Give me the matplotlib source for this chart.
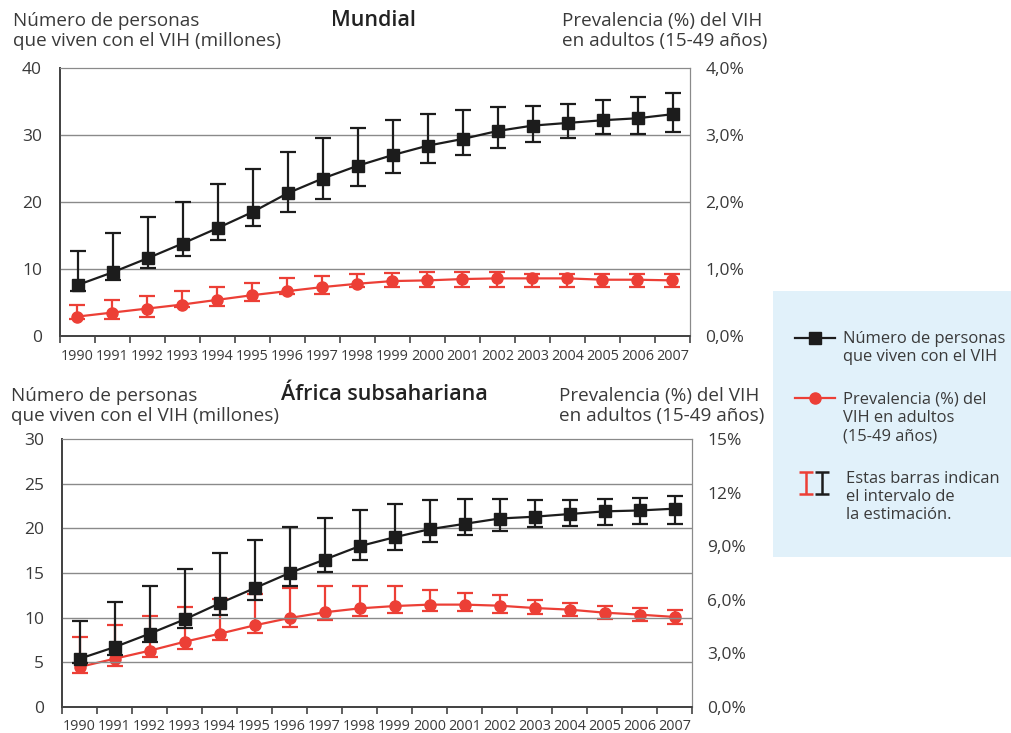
import numpy as np
import matplotlib
matplotlib.use('Agg')
import matplotlib.pyplot as plt
from matplotlib.ticker import FixedLocator, NullFormatter

plt.rcParams['font.family'] = ['Open Sans', 'DejaVu Sans']

years = [str(y) for y in range(1990, 2008)]

# Mundial: personas (millones) y prevalencia (%)
world_people = [7.6, 9.5, 11.6, 13.8, 16.1, 18.5, 21.3, 23.5, 25.4, 27.0,
                28.4, 29.4, 30.6, 31.4, 31.8, 32.2, 32.5, 33.1]
world_people_hi = [12.7, 15.3, 17.7, 20.0, 22.7, 24.9, 27.4, 29.5, 31.1, 32.3,
                   33.1, 33.7, 34.2, 34.4, 34.6, 35.2, 35.6, 36.2]
world_people_lo = [6.7, 8.3, 10.1, 12.0, 14.3, 16.4, 18.5, 20.5, 22.4, 24.3,
                   25.8, 27.0, 28.1, 29.0, 29.6, 30.1, 30.2, 30.4]
world_prev = [0.29, 0.35, 0.41, 0.47, 0.54, 0.61, 0.67, 0.73, 0.78, 0.82,
              0.83, 0.85, 0.86, 0.86, 0.86, 0.84, 0.84, 0.83]
world_prev_hi = [0.46, 0.53, 0.59, 0.67, 0.73, 0.79, 0.86, 0.90, 0.93, 0.94,
                 0.95, 0.95, 0.95, 0.93, 0.93, 0.93, 0.93, 0.93]
world_prev_lo = [0.26, 0.26, 0.29, 0.43, 0.45, 0.52, 0.62, 0.62, 0.73, 0.73,
                 0.73, 0.73, 0.73, 0.73, 0.73, 0.73, 0.73, 0.73]

# África subsahariana
ssa_people = [5.4, 6.7, 8.2, 9.8, 11.6, 13.3, 15.0, 16.5, 18.0, 19.0,
              19.9, 20.5, 21.1, 21.3, 21.6, 21.9, 22.0, 22.2]
ssa_people_hi = [9.6, 11.8, 13.5, 15.4, 17.2, 18.7, 20.1, 21.2, 22.1, 22.7,
                 23.2, 23.3, 23.3, 23.2, 23.2, 23.3, 23.4, 23.6]
ssa_people_lo = [4.9, 5.8, 7.3, 8.8, 10.3, 12.0, 13.6, 15.1, 16.5, 17.6,
                 18.5, 19.3, 19.7, 20.1, 20.3, 20.4, 20.5, 20.5]
ssa_prev = [2.24, 2.70, 3.15, 3.65, 4.10, 4.57, 4.98, 5.30, 5.52, 5.65,
            5.73, 5.73, 5.67, 5.54, 5.45, 5.28, 5.17, 5.04]
ssa_prev_hi = [3.90, 4.60, 5.10, 5.60, 6.05, 6.30, 6.66, 6.80, 6.80, 6.75,
               6.57, 6.40, 6.25, 5.97, 5.84, 5.65, 5.52, 5.41]
ssa_prev_lo = [1.90, 2.30, 2.80, 3.25, 3.77, 4.16, 4.50, 4.85, 5.10, 5.26,
               5.37, 5.37, 5.28, 5.19, 5.07, 4.94, 4.81, 4.66]

BLACK = '#1c1c1c'
RED = '#ec3f36'
TXT = '#3a3a3a'
W, H = 1011, 733


def panel(rect, people, p_lo, p_hi, prev, v_lo, v_hi, left_max, left_step,
          right_max, right_ticks, right_labels):
    ax = fig.add_axes(rect)
    ax2 = ax.twinx()
    x = np.arange(len(years))

    ax.set_xlim(-0.5, len(years) - 0.5)
    ax.set_ylim(0, left_max)
    ax2.set_ylim(0, right_max)

    # people on top of prevalence
    ax.set_zorder(ax2.get_zorder() + 1)
    ax.patch.set_visible(False)

    people = np.array(people)
    ax.errorbar(x, people, yerr=[people - np.array(p_lo), np.array(p_hi) - people],
                fmt='-s', color=BLACK, ecolor=BLACK, elinewidth=1.6, capsize=6,
                capthick=1.6, lw=1.6, ms=9, zorder=5)
    prev = np.array(prev)
    ax2.errorbar(x, prev, yerr=[prev - np.array(v_lo), np.array(v_hi) - prev],
                 fmt='-o', color=RED, ecolor=RED, elinewidth=1.6, capsize=5.5,
                 capthick=1.6, lw=1.6, ms=8, zorder=5)

    yt = np.arange(0, left_max + 0.1, left_step)
    ax.set_yticks(yt)
    ax.set_yticklabels([str(int(v)) for v in yt], fontsize=12.5, color=TXT)
    for v in yt[1:-1]:
        ax.axhline(v, color='#8a8a8a', lw=1, zorder=1)
    ax.tick_params(axis='y', length=0, pad=13)

    ax2.set_yticks(right_ticks)
    ax2.set_yticklabels(right_labels, fontsize=12.5, color=TXT)
    ax2.tick_params(axis='y', length=0, pad=11)

    ax.set_xticks(x)
    ax.set_xticklabels(years, fontsize=10.4, color=TXT)
    ax.xaxis.set_minor_locator(FixedLocator(np.arange(-0.5, len(years), 1)))
    ax.xaxis.set_minor_formatter(NullFormatter())
    ax.tick_params(axis='x', which='major', length=0, pad=9)
    ax.tick_params(axis='x', which='minor', length=5, width=1.2, color='#444444')

    for a in (ax, ax2):
        a.spines['left'].set_color('#444444')
        a.spines['bottom'].set_color('#444444')
        a.spines['left'].set_linewidth(1.3)
        a.spines['bottom'].set_linewidth(1.3)
        a.spines['top'].set_color('#8a8a8a')
        a.spines['right'].set_color('#8a8a8a')
    return ax


fig = plt.figure(figsize=(W / 100, H / 100), dpi=100)


def px(l, t, r, b):
    return [l / W, 1 - b / H, (r - l) / W, (b - t) / H]


panel(px(60, 68, 690, 336), world_people, world_people_lo, world_people_hi,
      world_prev, world_prev_lo, world_prev_hi, 40, 10, 4.0,
      [0, 1, 2, 3, 4], ['0,0%', '1,0%', '2,0%', '3,0%', '4,0%'])
panel(px(62, 439, 692, 707), ssa_people, ssa_people_lo, ssa_people_hi,
      ssa_prev, ssa_prev_lo, ssa_prev_hi, 30, 5, 15.0,
      [0, 3, 6, 9, 12, 15], ['0,0%', '3,0%', '6,0%', '9,0%', '12%', '15%'])

# titles and axis labels
def ftext(x, y, s, **kw):
    fig.text(x / W, 1 - y / H, s, **kw)

ftext(373, 21, 'Mundial', fontsize=15.5, fontweight='semibold', color='#222222',
      ha='center', va='center')
ftext(13, 31, 'Número de personas\nque viven con el VIH (millones)', fontsize=13.6,
      color=TXT, ha='left', va='center', linespacing=1.12)
ftext(767, 31, 'Prevalencia (%) del VIH\nen adultos (15-49 años)', fontsize=13.6,
      color=TXT, ha='right', va='center', linespacing=1.12, multialignment='left')

ftext(384, 394, 'África subsahariana', fontsize=15.5, fontweight='semibold',
      color='#222222', ha='center', va='center')
ftext(11, 406, 'Número de personas\nque viven con el VIH (millones)', fontsize=13.6,
      color=TXT, ha='left', va='center', linespacing=1.12)
ftext(764, 406, 'Prevalencia (%) del VIH\nen adultos (15-49 años)', fontsize=13.6,
      color=TXT, ha='right', va='center', linespacing=1.12, multialignment='left')

# legend box
lax = fig.add_axes(px(773, 291, W, 557))
lax.set_xlim(0, W - 773)
lax.set_ylim(557 - 291, 0)
lax.set_facecolor('#e1f1fa')
for s in lax.spines.values():
    s.set_visible(False)
lax.set_xticks([])
lax.set_yticks([])

lax.plot([22, 62], [47, 47], color=BLACK, lw=1.6)
lax.plot([42], [47], 's', color=BLACK, ms=9)
lax.text(70, 57, 'Número de personas\nque viven con el VIH', fontsize=11.9,
         color=TXT, va='center', ha='left', linespacing=1.2)
lax.plot([22, 62], [107, 107], color=RED, lw=1.6)
lax.plot([42], [107], 'o', color=RED, ms=8)
lax.text(70, 127, 'Prevalencia (%) del\nVIH en adultos\n(15-49 años)', fontsize=11.9,
         color=TXT, va='center', ha='left', linespacing=1.2)
lax.errorbar([33], [192], yerr=[[11], [11]], fmt='none', ecolor=RED,
             elinewidth=1.8, capsize=5, capthick=1.8)
lax.errorbar([49], [192], yerr=[[11], [11]], fmt='none', ecolor=BLACK,
             elinewidth=1.8, capsize=5, capthick=1.8)
lax.text(73, 206, 'Estas barras indican\nel intervalo de\nla estimación.',
         fontsize=11.9, color=TXT, va='center', ha='left', linespacing=1.2)

fig.savefig('out.png', dpi=100)
